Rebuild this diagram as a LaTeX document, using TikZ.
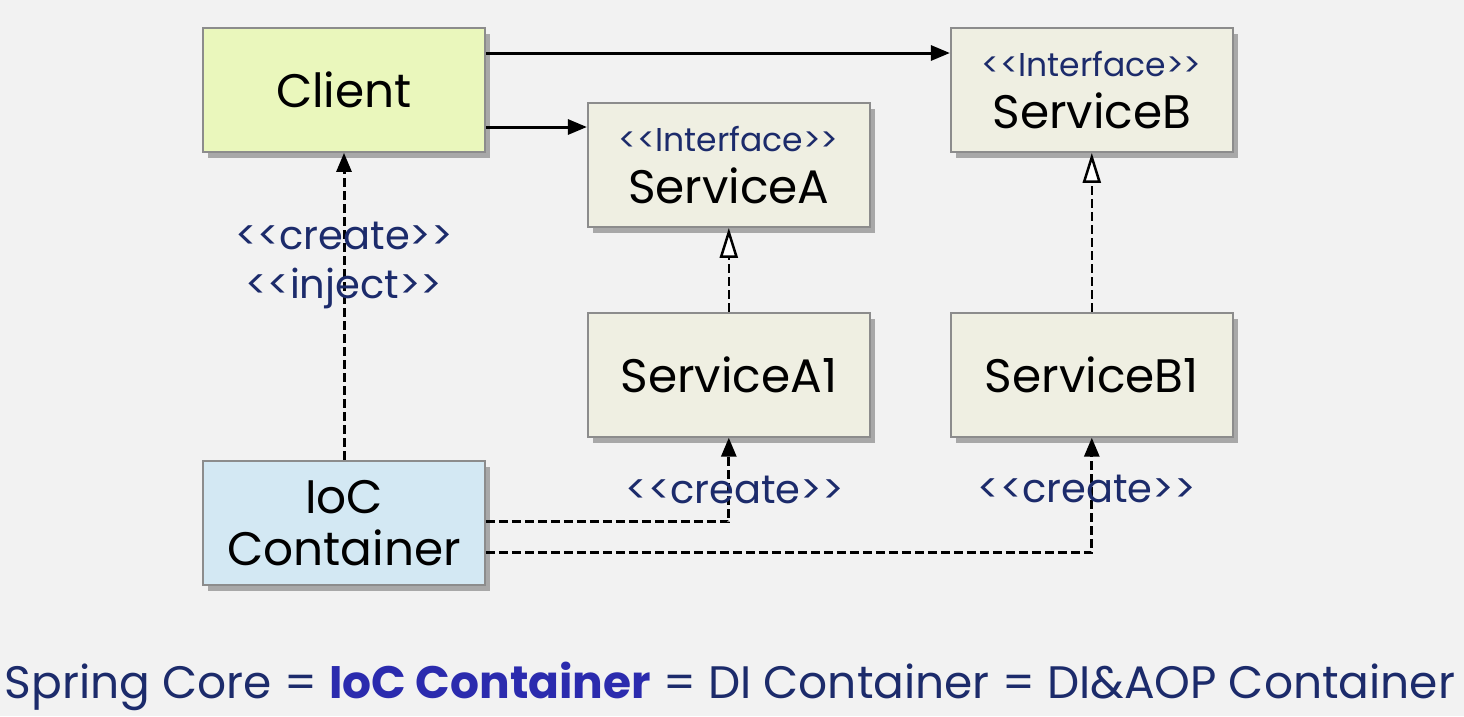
\documentclass[tikz,border=0pt]{standalone}
\usepackage{fontspec}
\setmainfont{Poppins}[Ligatures=TeXOff]
\usetikzlibrary{arrows.meta}
\usetikzlibrary{positioning}
\usetikzlibrary{shadows}
\definecolor{pagebg}{HTML}{F2F2F2}
\definecolor{boxline}{HTML}{8C8C8C}
\definecolor{clientfill}{HTML}{EAF7BC}
\definecolor{servfill}{HTML}{EFEFE2}
\definecolor{iocfill}{HTML}{D3E8F3}
\definecolor{navy}{HTML}{1C2B6B}
\definecolor{royal}{HTML}{2B2BAE}
\newcommand{\clsfont}{\fontsize{47}{52}\selectfont}
\newcommand{\stfont}{\fontsize{33}{36}\selectfont}
\newcommand{\lblfont}{\fontsize{40}{49}\selectfont}
\newcommand{\capfont}{\fontsize{45.5}{52}\selectfont}

\begin{document}
\begin{tikzpicture}[
  x=1pt, y=-1pt,
  cls/.style={rectangle, draw=boxline, line width=1.8pt, fill=servfill,
    minimum width=282pt, minimum height=124pt, inner sep=0pt,
    align=center, font=\clsfont,
    drop shadow={shadow xshift=5pt, shadow yshift=-6pt, opacity=0.3, fill=black}},
  stereo/.style={font=\lblfont, text=navy, align=center},
  arrow/.style={-{Triangle[length=19pt, width=15pt]}, line width=3pt},
  dep/.style={arrow, dash pattern=on 9pt off 4pt},
  real/.style={-{Triangle[length=30pt, width=18pt, fill=white]},
    line width=2.5pt, dash pattern=on 9pt off 4pt},
]

\fill[pagebg] (0,0) rectangle (1464,716);
\useasboundingbox (0,0) rectangle (1464,716);

% === classes ===
\node[cls, fill=clientfill] (client) at (344,90) {Client};
\node[cls, right=464pt of client] (servB)
  {{\stfont\color{navy}<<Interface>>}\\ServiceB};
\node[cls, right=101pt of client, yshift=-75pt] (servA)
  {{\stfont\color{navy}<<Interface>>}\\ServiceA};
\node[cls, below=84pt of servA] (servA1) {ServiceA1};
\node[cls, below=159pt of servB] (servB1) {ServiceB1};
\node[cls, fill=iocfill, below=307pt of client] (ioc) {IoC\\Container};

% === caption ===
\node[font=\capfont, text=navy, anchor=base] (caption) at (730,698)
  {Spring Core = {\bfseries\color{royal}IoC Container} = DI Container = DI\&AOP Container};

% === associations ===
\draw[arrow] ([yshift=37pt]client.east) -- ([yshift=37pt]servB.west);
\coordinate (toA) at ([yshift=-37pt]client.east);
\draw[arrow] (toA) -- (toA -| servA.west);

% === realizations ===
\draw[real] (servA1) -- (servA);
\draw[real] (servB1) -- (servB);

% === dependencies from the container ===
\draw[dep] (ioc) -- node[stereo, pos=0.632] {<<create>>\\<<inject>>} (client);
\draw[dep] ([yshift=1pt]ioc.east) -| node[stereo, pos=0.69, xshift=6pt] {<<create>>} (servA1);
\draw[dep] ([yshift=-30pt]ioc.east) -| node[stereo, pos=0.776, xshift=-5pt] {<<create>>} (servB1);

\end{tikzpicture}
\end{document}
